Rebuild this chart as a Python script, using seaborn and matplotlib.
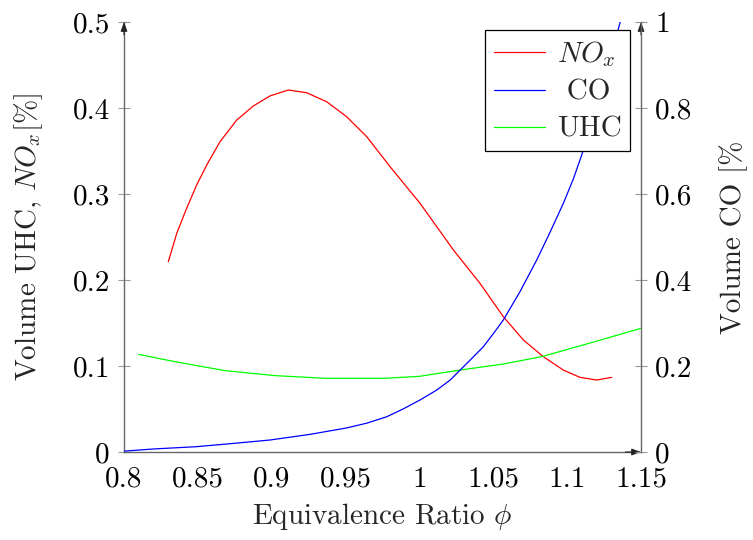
import matplotlib
matplotlib.use("Agg")
import matplotlib.pyplot as plt
import seaborn as sns
import pandas as pd
from matplotlib.lines import Line2D
from matplotlib.ticker import FixedLocator, FixedFormatter

# ---------------- data ----------------
nox_phi = [0.8300, 0.8357, 0.8424, 0.8492, 0.8560, 0.8650, 0.8763, 0.8875, 0.8988,
           0.9112, 0.9236, 0.9372, 0.9507, 0.9643, 0.9801, 1.0004, 1.0230, 1.0410,
           1.0568, 1.0704, 1.0839, 1.0974, 1.1087, 1.1200, 1.1302]
nox_val = [0.2213, 0.2543, 0.2833, 0.3105, 0.3337, 0.3608, 0.3860, 0.4023, 0.4140,
           0.4209, 0.4178, 0.4073, 0.3899, 0.3667, 0.3318, 0.2892, 0.2349, 0.1961,
           0.1573, 0.1302, 0.1108, 0.0953, 0.0868, 0.0837, 0.0868]

co_phi = [0.8000, 0.8198, 0.8492, 0.8740, 0.8989, 0.9259, 0.9508, 0.9643, 0.9779,
          0.9892, 1.0004, 1.0117, 1.0207, 1.0276, 1.0350, 1.0433, 1.0500, 1.0568,
          1.0681, 1.0794, 1.0880, 1.0974, 1.1042, 1.1098, 1.1230, 1.1359, 1.1420]
co_val = [0.002, 0.007, 0.0124, 0.020, 0.0279, 0.041, 0.056, 0.067, 0.082,
          0.1005, 0.121, 0.144, 0.167, 0.1907, 0.216, 0.245, 0.275, 0.307,
          0.373, 0.4465, 0.508, 0.578, 0.635, 0.690, 0.835, 1.000, 1.080]

uhc_phi = [0.8097, 0.8345, 0.8684, 0.9022, 0.9361, 0.9767, 1.0000, 1.0276, 1.0568,
           1.0828, 1.1132, 1.1500]
uhc_val = [0.1136, 0.1050, 0.0946, 0.0888, 0.0857, 0.0857, 0.0880, 0.0953, 0.1023,
           0.1109, 0.1256, 0.1438]

x_ticks = [0.8, 0.85, 0.9, 0.95, 1.0, 1.05, 1.1, 1.15]
x_tick_labels = ["0.8", "0.85", "0.9", "0.95", "1", "1.05", "1.1", "1.15"]
yl_ticks = [0, 0.1, 0.2, 0.3, 0.4, 0.5]
yl_tick_labels = ["0", "0.1", "0.2", "0.3", "0.4", "0.5"]
yr_ticks = [0, 0.2, 0.4, 0.6, 0.8, 1.0]
yr_tick_labels = ["0", "0.2", "0.4", "0.6", "0.8", "1"]

# ---------------- style ----------------
sns.set_style("white")
plt.rcParams["font.family"] = ["cmr10", "DejaVu Serif"]
plt.rcParams["mathtext.fontset"] = "cm"
plt.rcParams["axes.unicode_minus"] = False
plt.rcParams["axes.formatter.use_mathtext"] = True

FS = 21
SPINE = "#666666"
TICK = "#999999"

fig = plt.figure(figsize=(7.53, 5.40), dpi=100)
ax = fig.add_axes([124 / 753, 1 - 452 / 540, 517 / 753, 430 / 540])
ax2 = ax.twinx()

df_nox = pd.DataFrame({"phi": nox_phi, "val": nox_val})
df_co = pd.DataFrame({"phi": co_phi, "val": co_val})
df_uhc = pd.DataFrame({"phi": uhc_phi, "val": uhc_val})

LW = 0.9
sns.lineplot(data=df_nox, x="phi", y="val", ax=ax, color="#ff0000", lw=LW, sort=False, estimator=None)
sns.lineplot(data=df_uhc, x="phi", y="val", ax=ax, color="#00ff00", lw=LW, sort=False, estimator=None)
sns.lineplot(data=df_co, x="phi", y="val", ax=ax2, color="#0000ff", lw=LW, sort=False, estimator=None)

ax.set_xlim(0.8, 1.15)
ax.set_ylim(0, 0.5)
ax2.set_ylim(0, 1.0)

ax.xaxis.set_major_locator(FixedLocator(x_ticks))
ax.xaxis.set_major_formatter(FixedFormatter(x_tick_labels))
ax.yaxis.set_major_locator(FixedLocator(yl_ticks))
ax.yaxis.set_major_formatter(FixedFormatter(yl_tick_labels))
ax2.yaxis.set_major_locator(FixedLocator(yr_ticks))
ax2.yaxis.set_major_formatter(FixedFormatter(yr_tick_labels))

for a in (ax, ax2):
    for s in a.spines.values():
        s.set_color(SPINE)
        s.set_linewidth(1.0)
    a.spines["top"].set_visible(False)
ax.spines["right"].set_visible(False)
ax2.spines["left"].set_visible(False)
ax2.spines["bottom"].set_visible(False)

ax.tick_params(axis="both", direction="inout", length=8.5, width=0.8, color=TICK,
               labelsize=FS, pad=6, labelcolor="black")
ax2.tick_params(axis="y", direction="inout", length=8.5, width=0.8, color=TICK,
                labelsize=FS, pad=6, labelcolor="black")
ax.tick_params(axis="x", pad=6)

ax.set_xlabel(r"Equivalence Ratio $\phi$", fontsize=FS, labelpad=6)
ax.set_ylabel(r"Volume UHC, $NO_x$[%]", fontsize=FS, labelpad=20)
ax2.set_ylabel(r"Volume CO [%", fontsize=FS, labelpad=19)

# axis arrows
ARW = dict(arrowstyle="-|>,head_length=0.55,head_width=0.2", color="#222222", lw=0.8,
           shrinkA=0, shrinkB=0)
ax.annotate("", xy=(0, 1), xytext=(0, 0.97), xycoords="axes fraction",
            arrowprops=ARW, annotation_clip=False)
ax.annotate("", xy=(1, 1), xytext=(1, 0.97), xycoords="axes fraction",
            arrowprops=ARW, annotation_clip=False)
ax.annotate("", xy=(1, 0), xytext=(0.97, 0), xycoords="axes fraction",
            arrowprops=ARW, annotation_clip=False)

handles = [Line2D([], [], color="#ff0000", lw=LW),
           Line2D([], [], color="#0000ff", lw=LW),
           Line2D([], [], color="#00ff00", lw=LW)]
labels = [r"$NO_x$", " CO", "UHC"]
leg = ax2.legend(handles, labels, loc="upper right", bbox_to_anchor=(0.979, 0.981),
                 fontsize=FS, frameon=True, fancybox=False, framealpha=1,
                 edgecolor="black", handlelength=1.75, handletextpad=0.4,
                 borderpad=0.3, labelspacing=0.36, borderaxespad=0)
leg.get_frame().set_linewidth(0.9)

fig.savefig("out.png", dpi=100)
